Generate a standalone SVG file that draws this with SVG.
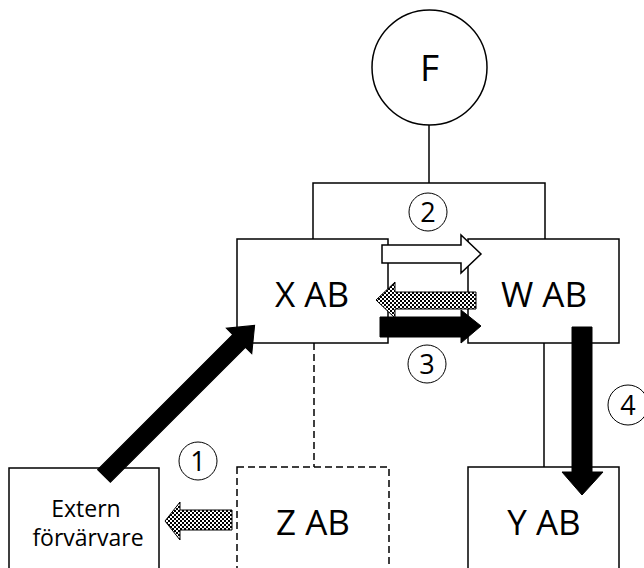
<svg xmlns="http://www.w3.org/2000/svg" width="644" height="568" viewBox="0 0 644 568">
  <defs>
    <pattern id="checker" width="4" height="4" patternUnits="userSpaceOnUse">
      <rect width="4" height="4" fill="#ffffff"/>
      <rect x="0" y="0" width="2" height="2" fill="#000000"/>
      <rect x="2" y="2" width="2" height="2" fill="#000000"/>
    </pattern>
  </defs>
  <style>
    .box { fill: #ffffff; stroke: #000000; stroke-width: 1.5; }
    .dashed { stroke-dasharray: 7 4; }
    .line { fill: none; stroke: #000000; stroke-width: 1.5; }
    .label { font-family: "Open Sans", "Liberation Sans", sans-serif; fill: #000000; text-anchor: middle; }
    .big { font-size: 35px; }
    .small { font-size: 23px; }
    .num { font-size: 27px; }
    .badge { fill: #ffffff; stroke: #000000; stroke-width: 1; }
    .solid { fill: #000000; stroke: #000000; stroke-width: 1; }
    .hollow { fill: #ffffff; stroke: #000000; stroke-width: 1.5; }
    .hatched { fill: url(#checker); stroke: #000000; stroke-width: 1; }
  </style>

  <!-- ownership lines -->
  <g id="connectors">
    <line class="line" x1="429" y1="125" x2="429" y2="183"/>
    <polyline class="line" points="313,239 313,183 545,183 545,239"/>
    <line class="line" x1="544" y1="343" x2="544" y2="467"/>
    <line class="line dashed" x1="314" y1="343" x2="314" y2="467"/>
  </g>

  <g id="node-f">
    <circle class="box" cx="429.5" cy="67.5" r="57.5"/>
    <text class="label" x="429.5" y="81" font-size="37">F</text>
  </g>

  <g id="node-x">
    <rect class="box" x="237" y="239" width="151" height="104"/>
    <text class="label big" x="312" y="307">X AB</text>
  </g>

  <g id="node-w">
    <rect class="box" x="468" y="239" width="151" height="104"/>
    <text class="label big" x="544" y="307">W AB</text>
  </g>

  <g id="node-z">
    <rect class="box dashed" x="237" y="467" width="152" height="110"/>
    <text class="label big" x="313" y="535">Z AB</text>
  </g>

  <g id="node-y">
    <rect class="box" x="468" y="467" width="151" height="110"/>
    <text class="label big" x="544" y="535">Y AB</text>
  </g>

  <g id="node-extern">
    <rect class="box" x="9" y="468" width="150" height="110"/>
    <text class="label small" x="86" y="517">Extern</text>
    <text class="label small" x="88" y="546">förvärvare</text>
  </g>

  <!-- transaction arrows -->
  <g id="arrows">
    <polygon class="hatched" points="232,510 180,510 180,502 165,521 180,540 180,530 232,530"/>
    <polygon class="solid" transform="translate(104,476) rotate(-45)" points="0,-9 191,-9 191,-18 213,0 191,18 191,9 0,9"/>
    <polygon class="hollow" points="382,245 461,245 461,235 481,254 461,273 461,263 382,263"/>
    <polygon class="hatched" points="476,292 395,292 395,282 376,300 395,318 395,309 476,309"/>
    <polygon class="solid" points="380,317 461,317 461,310 481,326 461,343 461,337 380,337"/>
    <polygon class="solid" points="572,327 592,327 592,472 603,472 582,495 562,472 572,472"/>
  </g>

  <!-- step numbers -->
  <g id="badges">
    <circle class="badge" cx="198" cy="461" r="19"/>
    <text class="label num" x="198" y="471">1</text>
    <circle class="badge" cx="428" cy="212" r="19"/>
    <text class="label num" x="428" y="222">2</text>
    <circle class="badge" cx="427" cy="364" r="19"/>
    <text class="label num" x="427" y="374">3</text>
    <circle class="badge" cx="628" cy="405" r="20"/>
    <text class="label num" x="628" y="415">4</text>
  </g>
</svg>
